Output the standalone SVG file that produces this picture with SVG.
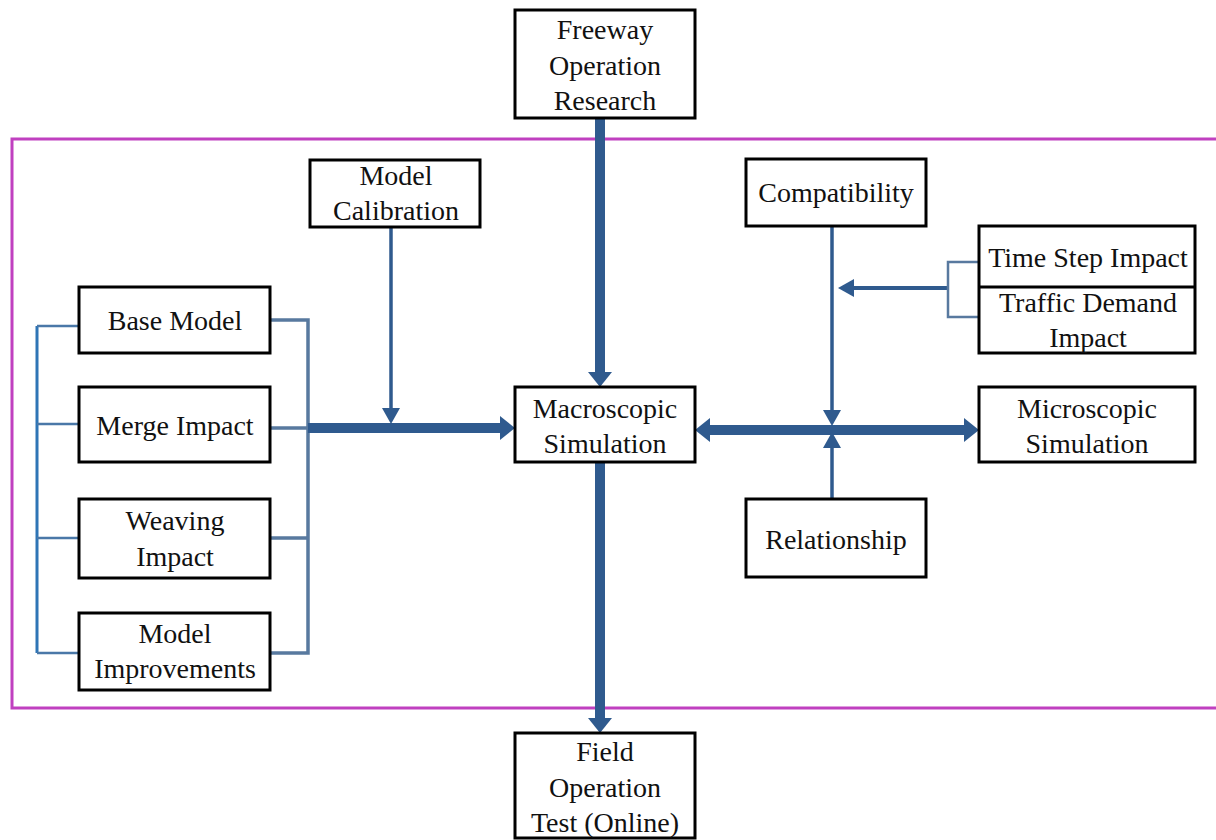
<svg xmlns="http://www.w3.org/2000/svg" width="1216" height="840" viewBox="0 0 1216 840">
<defs>
<marker id="big" markerUnits="userSpaceOnUse" markerWidth="15" markerHeight="24" refX="0" refY="12" orient="auto-start-reverse" viewBox="0 0 15 24">
<path d="M0,0 L15,12 L0,24 z" fill="#2f5a8e"/>
</marker>
<marker id="small" markerUnits="userSpaceOnUse" markerWidth="16" markerHeight="18" refX="0" refY="9" orient="auto" viewBox="0 0 16 18">
<path d="M0,0 L16,9 L0,18 z" fill="#2f5a8e"/>
</marker>
</defs>
<rect width="1216" height="840" fill="#fff"/>
<path fill="none" stroke="#c040c0" stroke-width="3" d="M1220,139 H12 V708 H1220"/>

<g id="connectors" fill="none">
<path stroke="#2e75b6" stroke-width="3" d="M37,326 V653"/>
<path stroke="#4a78a8" stroke-width="2.5" d="M37,326 H79 M37,424 H79 M37,538 H79 M37,653 H79"/>
<path stroke="#58799f" stroke-width="3.5" d="M270,320 H308 V653 H270 M270,538 H308 M270,428 H308"/>
<g stroke="#2f5a8e" stroke-width="10">
<line x1="308" y1="428" x2="500" y2="428" marker-end="url(#big)"/>
<line x1="600" y1="118" x2="600" y2="372" marker-end="url(#big)"/>
<line x1="600" y1="462" x2="600" y2="718" marker-end="url(#big)"/>
<line x1="710" y1="430" x2="964" y2="430" marker-start="url(#big)" marker-end="url(#big)"/>
</g>
<g stroke="#2f5a8e" stroke-width="3.5">
<line x1="391" y1="227" x2="391" y2="408" marker-end="url(#small)"/>
<line x1="832" y1="226" x2="832" y2="410" marker-end="url(#small)"/>
<line x1="832" y1="499" x2="832" y2="448" marker-end="url(#small)"/>
<line stroke-width="4" x1="948" y1="288" x2="854" y2="288" marker-end="url(#small)"/>
</g>
<path stroke="#58799f" stroke-width="2.5" d="M979,262 H948 V317 H979"/>
</g>

<g id="nodes" fill="#fff" stroke="#000" stroke-width="3">
<g id="freeway"><rect x="515" y="10" width="180" height="108"/></g>
<g id="calibration"><rect x="310" y="160" width="170" height="67"/></g>
<g id="base-model"><rect x="79" y="287" width="191" height="66"/></g>
<g id="merge-impact"><rect x="79" y="387" width="191" height="75"/></g>
<g id="weaving-impact"><rect x="79" y="499" width="191" height="79"/></g>
<g id="model-improvements"><rect x="79" y="613" width="191" height="77"/></g>
<g id="macroscopic"><rect x="515" y="387" width="180" height="75"/></g>
<g id="compatibility"><rect x="746" y="159" width="180" height="67"/></g>
<g id="time-traffic"><rect x="979" y="226" width="216" height="127"/><line x1="979" y1="287" x2="1195" y2="287"/></g>
<g id="microscopic"><rect x="979" y="387" width="216" height="75"/></g>
<g id="relationship"><rect x="746" y="499" width="180" height="78"/></g>
<g id="field"><rect x="515" y="733" width="180" height="105"/></g>
</g>

<g id="labels" font-family="Liberation Serif" font-size="28" fill="#111" text-anchor="middle">
<text font-family="Liberation Serif" x="605" y="39">Freeway</text>
<text font-family="Liberation Serif" x="605" y="75">Operation</text>
<text font-family="Liberation Serif" x="605" y="110">Research</text>
<text font-family="Liberation Serif" x="396" y="185">Model</text>
<text font-family="Liberation Serif" x="396" y="220">Calibration</text>
<text font-family="Liberation Serif" x="175" y="330">Base Model</text>
<text font-family="Liberation Serif" x="175" y="435">Merge Impact</text>
<text font-family="Liberation Serif" x="175" y="530">Weaving</text>
<text font-family="Liberation Serif" x="175" y="566">Impact</text>
<text font-family="Liberation Serif" x="175" y="643">Model</text>
<text font-family="Liberation Serif" x="175" y="678">Improvements</text>
<text font-family="Liberation Serif" x="605" y="418">Macroscopic</text>
<text font-family="Liberation Serif" x="605" y="453">Simulation</text>
<text font-family="Liberation Serif" x="836" y="202">Compatibility</text>
<text font-family="Liberation Serif" x="1088" y="267">Time Step Impact</text>
<text font-family="Liberation Serif" x="1088" y="312">Traffic Demand</text>
<text font-family="Liberation Serif" x="1088" y="347">Impact</text>
<text font-family="Liberation Serif" x="1087" y="418">Microscopic</text>
<text font-family="Liberation Serif" x="1087" y="453">Simulation</text>
<text font-family="Liberation Serif" x="836" y="549">Relationship</text>
<text font-family="Liberation Serif" x="605" y="761">Field</text>
<text font-family="Liberation Serif" x="605" y="797">Operation</text>
<text font-family="Liberation Serif" x="605" y="832">Test (Online)</text>
</g>
</svg>
